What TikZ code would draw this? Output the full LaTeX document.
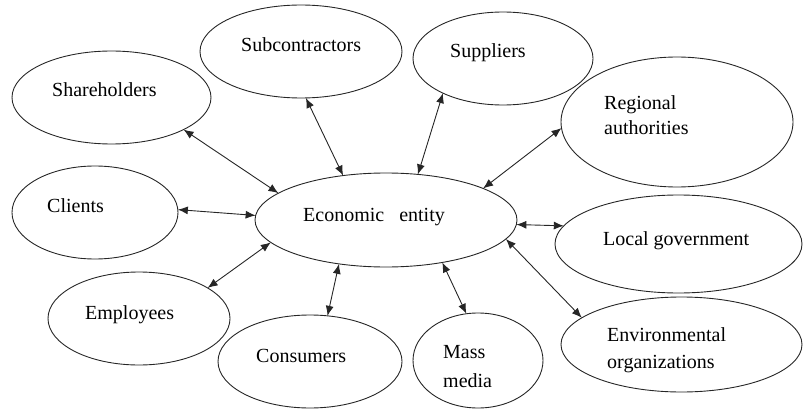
\documentclass[tikz,border=0pt]{standalone}
\usepackage{fontspec}
\setmainfont{Liberation Serif}
\usetikzlibrary{shapes.geometric,arrows.meta}
\begin{document}
\begin{tikzpicture}[x=1pt,y=-1pt,
  ell/.style={draw=black!85,line width=0.9pt,ellipse,inner sep=0pt,outer sep=0pt},
  txt/.style={inner sep=0pt,anchor=base west,font=\fontsize{20}{25}\selectfont,align=left},
  link/.style={draw=black!85,line width=0.9pt,{Latex[length=10pt,width=8pt]}-{Latex[length=10pt,width=8pt]}}]
\useasboundingbox (0,0) rectangle (803,409);
% ellipses
\node[ell,minimum width=199pt,minimum height=93pt] (sh) at (111.5,97.5) {};
\node[ell,minimum width=202pt,minimum height=93pt] (sc) at (301,51.5) {};
\node[ell,minimum width=180pt,minimum height=93pt] (su) at (503,58.5) {};
\node[ell,minimum width=232pt,minimum height=130pt] (ra) at (677,122) {};
\node[ell,minimum width=166pt,minimum height=93pt] (cl) at (95,212.5) {};
\node[ell,minimum width=262pt,minimum height=94pt] (ee) at (386,220) {};
\node[ell,minimum width=247pt,minimum height=98pt] (lg) at (678.5,244) {};
\node[ell,minimum width=182pt,minimum height=93pt] (em) at (139,318.5) {};
\node[ell,minimum width=184pt,minimum height=93pt] (co) at (310,361.5) {};
\node[ell,minimum width=130pt,minimum height=95pt] (mm) at (478,360.5) {};
\node[ell,minimum width=241pt,minimum height=95pt] (en) at (681.5,344.5) {};
% texts
\node[txt] (tsh) at (52,97) {Shareholders};
\node[txt] (tsc) at (241,52) {Subcontractors};
\node[txt] (tsu) at (450,58) {Suppliers};
\node[txt] (tra) at (604,135) {Regional\\authorities};
\node[txt] (tcl) at (47,212) {Clients};
\node[txt] (tee) at (303,221) {Economic\hspace{10pt} entity};
\node[txt] (tlg) at (603,245) {Local government};
\node[txt] (tem) at (85,319) {Employees};
\node[txt] (tco) at (256,362) {Consumers};
\node[txt,font=\fontsize{20}{29}\selectfont] (tmm) at (443,387) {Mass\\media};
\node[txt,font=\fontsize{20}{27}\selectfont] (ten) at (607,368) {Environmental\\organizations};
% connectors
\draw[link] (sh.-24) -- (ee.166);
\draw[link] (sc.-84) -- (ee.134);
\draw[link] (su.210) -- (ee.55);
\draw[link] (ra.183) -- (ee.18);
\draw[link] (cl.2) -- (ee.178);
\draw[link] (em.24) -- (ee.191);
\draw[link] (co.69) -- (ee.223);
\draw[link] (mm.104) -- (ee.-37);
\draw[link] (lg.171) -- (ee.-2);
\draw[link] (en.165) -- (ee.-9);
\end{tikzpicture}
\end{document}
